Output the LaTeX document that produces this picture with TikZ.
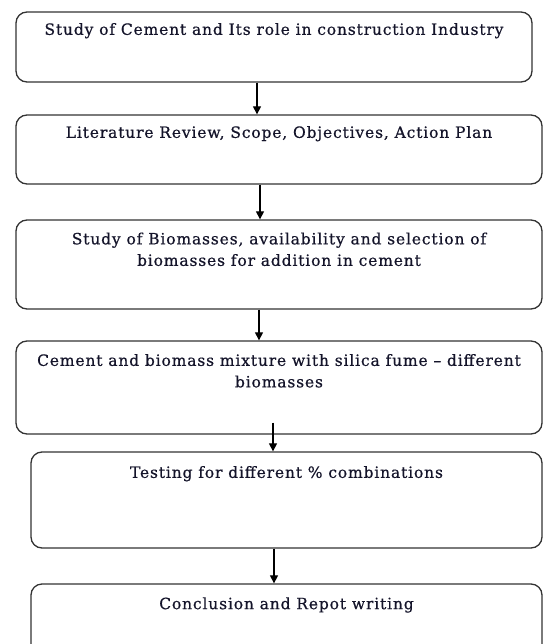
\documentclass[tikz,border=0pt]{standalone}
\usepackage{fontspec}
\setmainfont{DejaVu Serif}[LetterSpace=5.5,FakeBold=0.6]
\usetikzlibrary{arrows.meta}
\definecolor{edge}{HTML}{333333}
\definecolor{ink}{HTML}{14142A}
\tikzset{
  stagebox/.style={draw=edge, line width=1.3pt, rounded corners=11pt, inner sep=0pt},
  stagetext/.style={font=\fontsize{15.5}{21.5}\selectfont, text=ink, align=center, inner sep=0pt, anchor=north},
  flowarrow/.style={draw=black, line width=1.2pt, -{Triangle[length=8pt,width=8pt]}}
}
\begin{document}
\begin{tikzpicture}[x=1pt,y=-1pt]
\useasboundingbox (0,0) rectangle (544,644);
\node[stagebox, minimum width=516pt, minimum height=70pt] (b1) at (274,47) {};
\node[stagebox, minimum width=526pt, minimum height=69pt] (b2) at (279,149.5) {};
\node[stagebox, minimum width=526pt, minimum height=89pt] (b3) at (279,264.5) {};
\node[stagebox, minimum width=526pt, minimum height=93pt] (b4) at (279,387.5) {};
\node[stagebox, minimum width=511pt, minimum height=96pt] (b5) at (286.5,500) {};
\node[stagebox, minimum width=511pt, minimum height=76pt] (b6) at (286.5,622) {};

\node[stagetext] (t1) at ([yshift=-11.5pt]b1.north) {Study of Cement and Its role in construction Industry};
\node[stagetext] (t2) at ([yshift=-11.5pt]b2.north) {Literature Review, Scope, Objectives, Action Plan};
\node[stagetext] (t3) at ([yshift=-13pt]b3.north) {Study of Biomasses, availability and selection of\\biomasses for addition in cement};
\node[stagetext] (t4) at ([yshift=-13.5pt]b4.north) {Cement and biomass mixture with silica fume -- different\\biomasses};
\node[stagetext] (t5) at ([yshift=-14.5pt]b5.north) {Testing for different \% combinations};
\node[stagetext] (t6) at ([yshift=-13.8pt]b6.north) {Conclusion and Repot writing};

\draw[flowarrow] ([xshift=-17pt]b1.south) -- ([xshift=-17pt]b1.south |- b2.north);
\draw[flowarrow] ([xshift=-19pt]b2.south) -- ([xshift=-19pt]b2.south |- b3.north);
\draw[flowarrow] ([xshift=-20pt]b3.south) -- ([xshift=-20pt]b3.south |- b4.north);
\draw[flowarrow] ([xshift=-6pt,yshift=12pt]b4.south) -- ([xshift=-6pt]b4.south |- b5.north);
\draw[flowarrow] ([xshift=-12.5pt]b5.south) -- ([xshift=-12.5pt]b5.south |- b6.north);
\end{tikzpicture}
\end{document}
